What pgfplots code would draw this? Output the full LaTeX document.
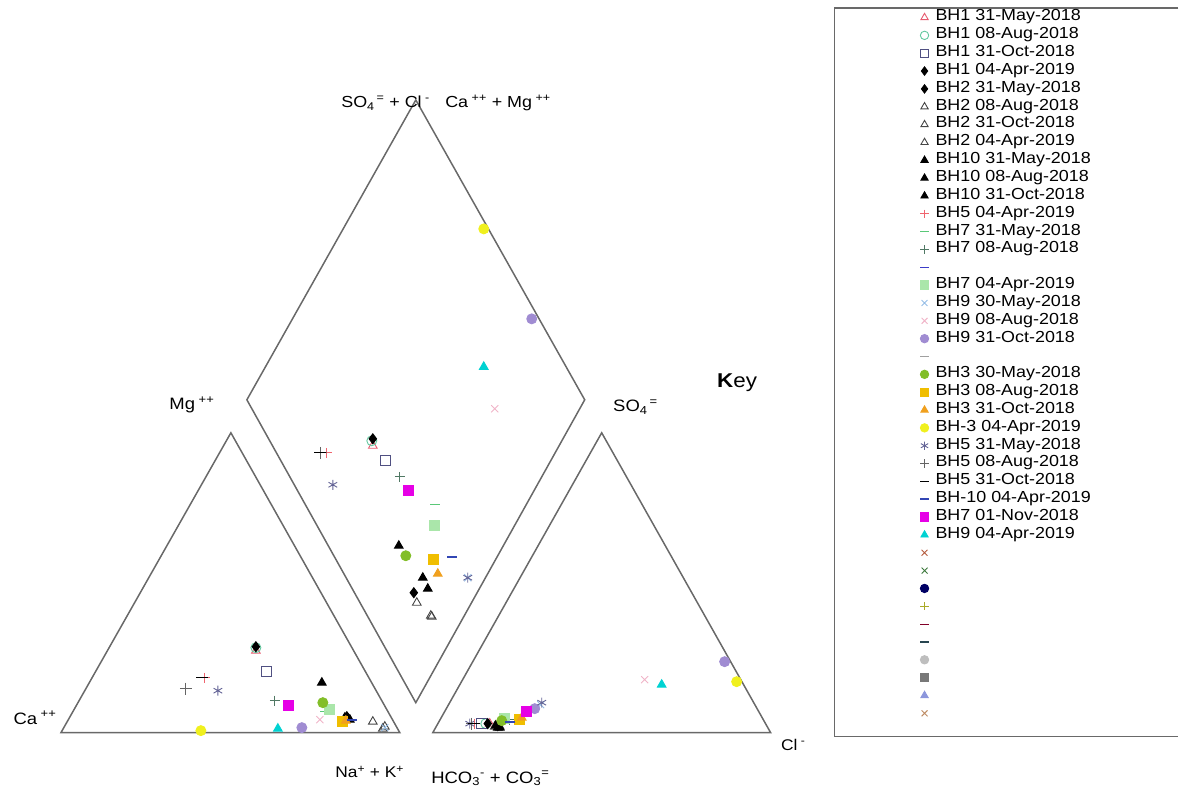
\documentclass[border=0pt]{standalone}
\usepackage{fontspec}
\setmainfont{Liberation Sans}[FakeStretch=1.12]
\usepackage{pgfplots}
\pgfplotsset{compat=1.18}
\definecolor{frame}{RGB}{105,105,105}
\definecolor{cA}{RGB}{230,90,110}
\definecolor{cB}{RGB}{100,200,160}
\definecolor{cC}{RGB}{80,80,130}
\definecolor{cD}{RGB}{70,70,70}
\definecolor{cE}{RGB}{240,100,110}
\definecolor{cF}{RGB}{90,200,120}
\definecolor{cG}{RGB}{80,120,100}
\definecolor{cH}{RGB}{60,60,200}
\definecolor{cI}{RGB}{170,230,170}
\definecolor{cJ}{RGB}{150,190,230}
\definecolor{cK}{RGB}{240,180,200}
\definecolor{cL}{RGB}{160,140,210}
\definecolor{cM}{RGB}{160,160,160}
\definecolor{cN}{RGB}{130,190,40}
\definecolor{cO}{RGB}{240,190,0}
\definecolor{cP}{RGB}{240,160,30}
\definecolor{cQ}{RGB}{240,240,30}
\definecolor{cR}{RGB}{100,100,150}
\definecolor{cS}{RGB}{100,100,100}
\definecolor{cT}{RGB}{50,70,180}
\definecolor{cU}{RGB}{230,0,230}
\definecolor{cV}{RGB}{0,210,210}
\definecolor{cW}{RGB}{180,90,60}
\definecolor{cX}{RGB}{60,120,60}
\definecolor{cY}{RGB}{0,0,100}
\definecolor{cZ}{RGB}{170,170,40}
\definecolor{dA}{RGB}{130,0,40}
\definecolor{dB}{RGB}{40,70,80}
\definecolor{dC}{RGB}{190,190,190}
\definecolor{dD}{RGB}{120,120,120}
\definecolor{dE}{RGB}{140,150,220}
\definecolor{dF}{RGB}{190,140,100}
\begin{document}
\begin{tikzpicture}
\begin{axis}[
  scale only axis, width=1179pt, height=796pt,
  xmin=0, xmax=1179, ymin=0, ymax=796, y dir=reverse,
  hide axis, clip=false,
  every axis plot/.append style={only marks, mark size=5pt, line width=0.9pt},
  legend cell align=left,
  legend style={at={(axis cs:919,8.6)}, anchor=north west, draw=none, fill=none,
    inner sep=0pt, outer sep=0pt, row sep=0pt, column sep=0pt,
    font=\fontsize{16}{17}\selectfont,
    nodes={inner sep=0pt, outer sep=0pt, text height=12.35pt, text depth=5.5pt}},
  legend image code/.code={\path[draw=none,fill=none] (-6pt,-3pt) rectangle (11pt,3pt); \draw[#1,mark size=4.2pt] plot coordinates {(0pt,0pt)};},
]
% frames
\draw[frame, line width=1.5pt] (axis cs:61,733) -- (axis cs:400,733) -- (axis cs:231,433) -- cycle;
\draw[frame, line width=1.5pt] (axis cs:433,733) -- (axis cs:771,733) -- (axis cs:602,433) -- cycle;
\draw[frame, line width=1.5pt] (axis cs:416,100) -- (axis cs:585,400) -- (axis cs:416,703) -- (axis cs:247,400) -- cycle;
\draw[frame, line width=1.2pt] (axis cs:1179,8) -- (axis cs:835,8) -- (axis cs:835,737) -- (axis cs:1179,737);
% series
\addplot[mark=triangle, color=cA] coordinates {(373,446) (256,651) (490,724)};
\addlegendentry{BH1 31-May-2018}
\addplot[mark=o, color=cB] coordinates {(372,441) (256,648) (486,724)};
\addlegendentry{BH1 08-Aug-2018}
\addplot[mark=square, color=cC] coordinates {(386,461) (267,672) (482,724)};
\addlegendentry{BH1 31-Oct-2018}
\addplot[mark=diamond*, color=black] coordinates {(373,439) (256,647) (488,724)};
\addlegendentry{BH1 04-Apr-2019}
\addplot[mark=diamond*, color=black] coordinates {(414,593) (347,717) (498,726)};
\addlegendentry{BH2 31-May-2018}
\addplot[mark=triangle, color=cD] coordinates {(417,603) (373,722) (495,727)};
\addlegendentry{BH2 08-Aug-2018}
\addplot[mark=triangle, color=cD] coordinates {(432,617) (383,729) (500,727)};
\addlegendentry{BH2 31-Oct-2018}
\addplot[mark=triangle, color=cD] coordinates {(431,616) (385,727) (499,726)};
\addlegendentry{BH2 04-Apr-2019}
\addplot[mark=triangle*, color=black] coordinates {(399,546) (322,683) (496,726)};
\addlegendentry{BH10 31-May-2018}
\addplot[mark=triangle*, color=black] coordinates {(423,578) (345,718) (500,728)};
\addlegendentry{BH10 08-Aug-2018}
\addplot[mark=triangle*, color=black] coordinates {(428,589) (350,720) (498,728)};
\addlegendentry{BH10 31-Oct-2018}
\addplot[mark=+, color=cE] coordinates {(327,453) (205,678) (475,724)};
\addlegendentry{BH5 04-Apr-2019}
\addplot[mark=-, color=cF] coordinates {(435,505) (325,712) (505,721)};
\addlegendentry{BH7 31-May-2018}
\addplot[mark=+, color=cG] coordinates {(400,477) (275,701) (510,720)};
\addlegendentry{BH7 08-Aug-2018}
\addlegendimage{only marks, mark=-, line width=1.2pt, color=cH}
\addlegendentry{}
\addplot[mark=square*, color=cI] coordinates {(435,526) (330,710) (505,719)};
\addlegendentry{BH7 04-Apr-2019}
\addplot[mark=x, color=cJ] coordinates {(468,578) (385,728) (541,705)};
\addlegendentry{BH9 30-May-2018}
\addplot[mark=x, color=cK] coordinates {(495,409) (320,720) (645,680)};
\addlegendentry{BH9 08-Aug-2018}
\addplot[mark=*, color=cL] coordinates {(532,319) (302,728) (725,662) (535,709)};
\addlegendentry{BH9 31-Oct-2018}
\addlegendimage{only marks, mark=-, color=cM}
\addlegendentry{}
\addplot[mark=*, color=cN] coordinates {(406,556) (323,703) (502,721)};
\addlegendentry{BH3 30-May-2018}
\addplot[mark=square*, color=cO] coordinates {(434,560) (343,722) (520,720)};
\addlegendentry{BH3 08-Aug-2018}
\addplot[mark=triangle*, color=cP] coordinates {(438,574) (346,721) (522,718)};
\addlegendentry{BH3 31-Oct-2018}
\addplot[mark=*, color=cQ] coordinates {(484,229) (201,731) (737,682)};
\addlegendentry{BH-3 04-Apr-2019}
\addplot[mark=asterisk, color=cR] coordinates {(333,485) (218,691) (470,724) (468,578) (542,703)};
\addlegendentry{BH5 31-May-2018}
\addplot[mark=+, color=cS, mark size=6pt] coordinates {(321,453) (186,689) (472,724)};
\addlegendentry{BH5 08-Aug-2018}
\addplot[mark=-, color=black, mark size=6pt] coordinates {(320,453) (202,678) (474,724)};
\addlegendentry{BH5 31-Oct-2018}
\addplot[mark=-, color=cT, line width=2pt] coordinates {(452,557) (352,720) (510,722)};
\addlegendentry{BH-10 04-Apr-2019}
\addplot[mark=square*, color=cU] coordinates {(409,491) (289,706) (527,712)};
\addlegendentry{BH7 01-Nov-2018}
\addplot[mark=triangle*, color=cV] coordinates {(484,367) (278,729) (662,685)};
\addlegendentry{BH9 04-Apr-2019}
\addlegendimage{only marks, mark=x, color=cW}
\addlegendentry{}
\addlegendimage{only marks, mark=x, color=cX}
\addlegendentry{}
\addlegendimage{only marks, mark=*, color=cY}
\addlegendentry{}
\addlegendimage{only marks, mark=+, color=cZ}
\addlegendentry{}
\addlegendimage{only marks, mark=-, line width=1.2pt, color=dA}
\addlegendentry{}
\addlegendimage{only marks, mark=-, line width=1.2pt, color=dB}
\addlegendentry{}
\addlegendimage{only marks, mark=*, color=dC}
\addlegendentry{}
\addlegendimage{only marks, mark=square*, color=dD}
\addlegendentry{}
\addlegendimage{only marks, mark=triangle*, color=dE}
\addlegendentry{}
\addlegendimage{only marks, mark=x, color=dF}
\addlegendentry{}
% labels
\node[anchor=west, font=\fontsize{16}{16}\selectfont] at (axis cs:338,103) {SO\textsubscript{4}\textsuperscript{\,=} + Cl\textsuperscript{\ -}};
\node[anchor=west, font=\fontsize{16}{16}\selectfont] at (axis cs:442,103) {Ca\textsuperscript{\ ++} + Mg\textsuperscript{\ ++}};
\node[anchor=west, font=\fontsize{16.5}{16.5}\selectfont] at (axis cs:166,405) {Mg\textsuperscript{\ ++}};
\node[anchor=west, font=\fontsize{16.5}{16.5}\selectfont] at (axis cs:10,718) {Ca\textsuperscript{\ ++}};
\node[anchor=west, font=\fontsize{15.5}{15.5}\selectfont] at (axis cs:332,772) {Na\textsuperscript{+} + K\textsuperscript{+}};
\node[anchor=west, font=\fontsize{16.5}{16.5}\selectfont] at (axis cs:428,779) {HCO\textsubscript{3}\textsuperscript{-} + CO\textsubscript{3}\textsuperscript{=}};
\node[anchor=west, font=\fontsize{16.5}{16.5}\selectfont] at (axis cs:610,407) {SO\textsubscript{4}\textsuperscript{\,=}};
\node[anchor=west, font=\fontsize{15.5}{15.5}\selectfont] at (axis cs:778,745) {Cl\textsuperscript{\ -}};
\node[anchor=west, font=\fontsize{20}{20}\selectfont] at (axis cs:714,383) {\textbf{K}ey};
\path (rel axis cs:0,0) rectangle (rel axis cs:1,1);
\end{axis}
\end{tikzpicture}
\end{document}
